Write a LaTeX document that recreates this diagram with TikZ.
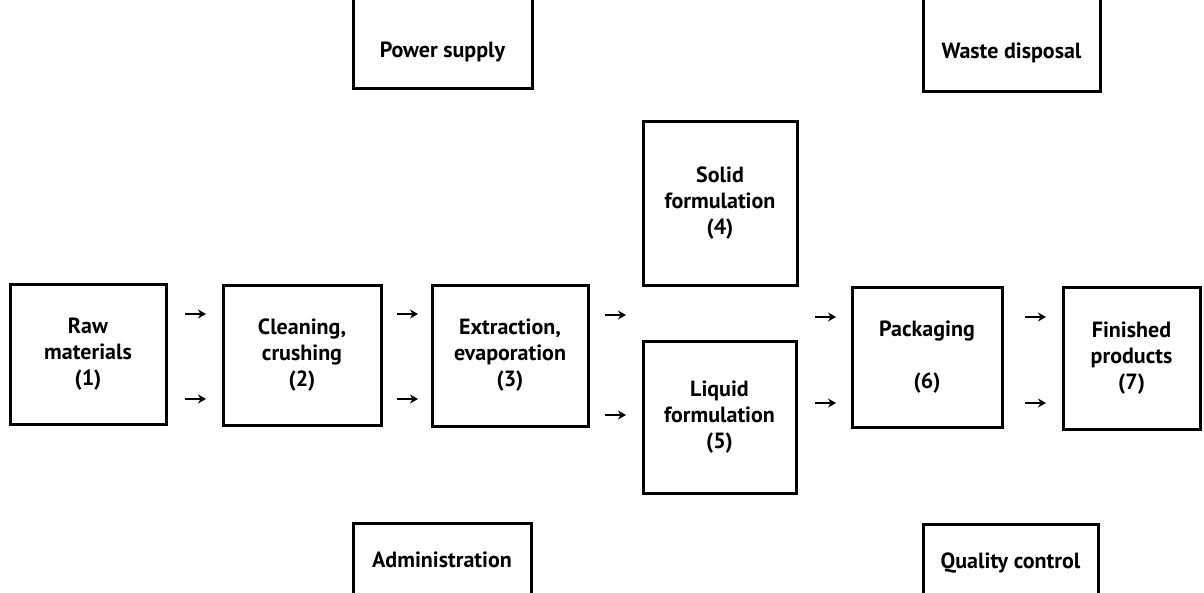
\documentclass[tikz,border=0pt]{standalone}
\usepackage{fontspec}
\setmainfont{PT Sans}
\usetikzlibrary{arrows.meta}
\begin{document}
\begin{tikzpicture}[x=1pt,y=-1pt,
  box/.style={draw=black, line width=3pt, inner sep=0pt},
  lbl/.style={font=\fontsize{22pt}{26pt}\selectfont\bfseries, align=center, inner sep=0pt},
  flow/.style={line width=2pt, -{Stealth[length=8pt,width=9pt]}}]
\useasboundingbox (0,0) rectangle (1204,592);
\clip (0,0) rectangle (1204,592);

% main process chain
\node[box, lbl, minimum width=156pt, minimum height=140pt] (raw)    at (88,354)     {Raw\\materials\\(1)};
\node[box, lbl, minimum width=158pt, minimum height=140pt] (clean)  at (302,355)    {Cleaning,\\crushing\\(2)};
\node[box, lbl, minimum width=156pt, minimum height=141pt] (extr)   at (510,355.5)  {Extraction,\\evaporation\\(3)};
\node[box, lbl, minimum width=154pt, minimum height=164pt] (solid)  at (720,203)    {Solid\\formulation\\(4)};
\node[box, lbl, minimum width=153pt, minimum height=152pt] (liquid) at (719.5,417)  {Liquid\\formulation\\(5)};
\node[box, lbl, minimum width=150pt, minimum height=140pt] (pack)   at (927,357)    {Packaging\\[26pt](6)};
\node[box, lbl, minimum width=137pt, minimum height=142pt] (fin)    at (1131.5,358) {Finished\\products\\(7)};

% service boxes running off the top and bottom edges
\node[box, minimum width=179pt, minimum height=98pt] (power) at (442.5,39)   {};
\node[lbl] (powert) at (442.5,52) {Power supply};
\node[box, minimum width=177pt, minimum height=101pt] (waste) at (1011.5,40.5) {};
\node[lbl] (wastet) at (1011.5,53) {Waste disposal};
\node[box, minimum width=178pt, minimum height=80pt] (admin) at (442,563)   {};
\node[lbl] (admint) at (442,560) {Administration};
\node[box, minimum width=175pt, minimum height=80pt] (qc) at (1010.5,564)   {};
\node[lbl] (qct) at (1010.5,563) {Quality control};

% short arrows between the stages
\coordinate (a1us) at (185,314);  \coordinate (a1ue) at (206,314);
\coordinate (a1ls) at (185,399);  \coordinate (a1le) at (206,399);
\coordinate (a2us) at (397,314);  \coordinate (a2ue) at (418,314);
\coordinate (a2ls) at (397,399);  \coordinate (a2le) at (418,399);
\coordinate (a3us) at (605,315);  \coordinate (a3ue) at (626,315);
\coordinate (a3ls) at (605,415);  \coordinate (a3le) at (626,415);
\coordinate (a4us) at (815,317);  \coordinate (a4ue) at (836,317);
\coordinate (a4ls) at (815,403);  \coordinate (a4le) at (836,403);
\coordinate (a5us) at (1025,317); \coordinate (a5ue) at (1046,317);
\coordinate (a5ls) at (1025,403); \coordinate (a5le) at (1046,403);
\foreach \a in {a1u,a1l,a2u,a2l,a3u,a3l,a4u,a4l,a5u,a5l}
  \draw[flow] (\a s) -- (\a e);
\end{tikzpicture}
\end{document}
